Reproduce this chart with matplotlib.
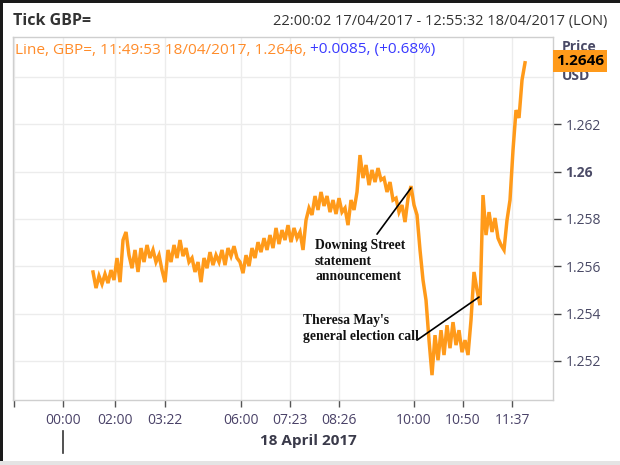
import matplotlib
matplotlib.use("Agg")
import matplotlib.pyplot as plt
from matplotlib.lines import Line2D
from matplotlib.patches import Rectangle
import numpy as np

# GBP= tick prices, read left to right off the chart (one value per tick slot)
prices = [
    1.25576, 1.25508, 1.25559, 1.25525, 1.25567, 1.25529, 1.25584, 1.25542, 1.25635, 1.25533,
    1.25711, 1.25745, 1.25647, 1.25592, 1.25669, 1.25576, 1.25677, 1.25618, 1.25690, 1.25635,
    1.25669, 1.25618, 1.25647, 1.25584, 1.25533, 1.25669, 1.25618, 1.25690, 1.25635, 1.25711,
    1.25643, 1.25677, 1.25618, 1.25635, 1.25576, 1.25618, 1.25533, 1.25635, 1.25592, 1.25660,
    1.25605, 1.25647, 1.25618, 1.25669, 1.25605, 1.25677, 1.25643, 1.25685, 1.25635, 1.25618,
    1.25571, 1.25647, 1.25601, 1.25677, 1.25635, 1.25702, 1.25660, 1.25719, 1.25669, 1.25732,
    1.25677, 1.25762, 1.25694, 1.25753, 1.25711, 1.25774, 1.25702, 1.25762, 1.25719, 1.25745,
    1.25669, 1.25795, 1.25846, 1.25817, 1.25897, 1.25838, 1.25914, 1.25855, 1.25897, 1.25829,
    1.25880, 1.25821, 1.25888, 1.25829, 1.25846, 1.25774, 1.25880, 1.25838, 1.25914, 1.26070,
    1.25973, 1.26028, 1.25943, 1.26007, 1.25956, 1.26015, 1.25965, 1.25973, 1.25914, 1.25956,
    1.25880, 1.25888, 1.25829, 1.25859, 1.25787, 1.25888, 1.25939, 1.25859, 1.25817, 1.25669,
    1.25542, 1.25457, 1.25288, 1.25140, 1.25309, 1.25203, 1.25330, 1.25225, 1.25351, 1.25254,
    1.25364, 1.25267, 1.25330, 1.25237, 1.25288, 1.25225, 1.25373, 1.25576, 1.25500, 1.25436,
    1.25901, 1.25732, 1.25829, 1.25745, 1.25804, 1.25719, 1.25690, 1.25669, 1.25795, 1.25880,
    1.26091, 1.26260, 1.26227, 1.26387, 1.26460,
]

# x axis is a tick axis: positions are in tick slots, labels irregular
tick_pos = [-26.3, -10, 7.3, 24, 49.3, 65.7, 82, 107, 123.3, 139.7]
tick_labels = ["", "00:00", "02:00", "03:22", "06:00", "07:23", "08:26", "10:00", "10:50", "11:37"]
y_ticks = [1.252, 1.254, 1.256, 1.258, 1.26, 1.262]
y_labels = ["1.252", "1.254", "1.256", "1.258", "1.26", "1.262"]

SANS = "Open Sans"
SERIF = "Liberation Serif"

W, H = 620, 465
fig = plt.figure(figsize=(6.2, 4.65), dpi=100)
fig.patch.set_facecolor("white")

def fx(px):
    return px / W

def fy(py):
    return 1 - py / H

ax = fig.add_axes([fx(13), fy(400), (553 - 13) / W, (400 - 37) / H])
x = np.arange(len(prices))
ax.plot(x, prices, color="#ff9a1a", lw=2.5, solid_joinstyle="miter", zorder=3)

ax.set_xlim(-26.67, 153.33)
ax.set_ylim(1.25035, 1.26569)

# grid
for t in tick_pos:
    ax.axvline(t, color="#ececec", lw=1, zorder=1)
for v in y_ticks + [1.264]:
    ax.axhline(v, color="#ececec", lw=1, zorder=1)

for s in ax.spines.values():
    s.set_color("#cfcfcf")
    s.set_linewidth(1)

ax.set_xticks(tick_pos)
ax.set_xticklabels(tick_labels)
ax.tick_params(axis="x", direction="out", length=5, width=1, color="#555555",
               labelsize=10, labelcolor="#4a4268", pad=4)
ax.yaxis.tick_right()
ax.set_yticks(y_ticks)
ax.set_yticklabels(y_labels)
ax.tick_params(axis="y", direction="out", length=6, width=1, color="#444444",
               labelsize=10, labelcolor="#4a4a66", pad=3)
for lab in ax.get_yticklabels():
    lab.set_family(SANS)
    if lab.get_text() == "1.26":
        lab.set_fontweight("bold")
for lab in ax.get_xticklabels():
    lab.set_family(SANS)

# annotations
ax.annotate("", xy=(106, 1.25931), xytext=(94.67, 1.25736),
            arrowprops=dict(arrowstyle="-", color="black", lw=1.2, shrinkA=0, shrinkB=0))
ax.annotate("", xy=(128.67, 1.2547), xytext=(108, 1.25288),
            arrowprops=dict(arrowstyle="-", color="black", lw=1.2, shrinkA=0, shrinkB=0))
fig.text(fx(315), fy(239), "Downing Street\nstatement\nannouncement", family=SERIF,
         fontweight="bold", fontsize=9.8, va="top", ha="left", linespacing=1.25,
         color="#111111")
fig.text(fx(303), fy(314), "Theresa May's\ngeneral election call", family=SERIF,
         fontweight="bold", fontsize=9.8, ha="left", va="top", linespacing=1.25,
         color="#111111")

# header texts
fig.text(fx(13), fy(21), "Tick GBP=", family=SANS, fontweight="bold",
         fontsize=11.5, color="#333333", va="center", ha="left")
fig.text(fx(607), fy(21), "22:00:02 17/04/2017 - 12:55:32 18/04/2017 (LON)",
         family=SANS, fontsize=10.5, color="#333333", va="center", ha="right")
t1 = fig.text(fx(15), fy(50), "Line, GBP=, 11:49:53 18/04/2017, 1.2646, ",
              family=SANS, fontsize=11.1, color="#ff8c2a", va="center", ha="left")
fig.canvas.draw()
bb = t1.get_window_extent()
fig.text(bb.x1 / W, fy(50), "+0.0085, (+0.68%)", family=SANS, fontsize=11.1,
         color="#3a3aff", va="center", ha="left")

# price label box on right axis
fig.text(fx(562), fy(47), "Price", family=SANS, fontweight="bold", fontsize=10,
         color="#4a4a66", va="center", ha="left", zorder=1)
fig.text(fx(562), fy(76), "USD", family=SANS, fontweight="bold", fontsize=10,
         color="#4a4a66", va="center", ha="left", zorder=1)
fig.patches.append(Rectangle((fx(553), fy(72)), (607 - 553) / W, 22 / H,
                             transform=fig.transFigure, facecolor="#ff9a1a",
                             edgecolor="none", zorder=5))
fig.text(fx(580), fy(61), "1.2646", family=SANS, fontweight="bold", fontsize=11,
         color="black", va="center", ha="center", zorder=6)

# date label and day marker
fig.text(fx(308), fy(441), "18 April 2017", family=SANS, fontweight="bold",
         fontsize=11, color="#3a3a4a", va="center", ha="center")
fig.add_artist(Line2D([fx(63), fx(63)], [fy(431), fy(453)], color="#333333", lw=1.2))

# window frame
fig.patches.append(Rectangle((0, 0), 3 / W, 1, transform=fig.transFigure,
                             facecolor="#1a1a1a", edgecolor="none"))
fig.patches.append(Rectangle((0, fy(3)), 1, 3 / H, transform=fig.transFigure,
                             facecolor="#1a1a1a", edgecolor="none"))
fig.patches.append(Rectangle((0, 0), 1, 4 / H, transform=fig.transFigure,
                             facecolor="#e4e4e4", edgecolor="none"))

fig.savefig("out.png", dpi=100)
